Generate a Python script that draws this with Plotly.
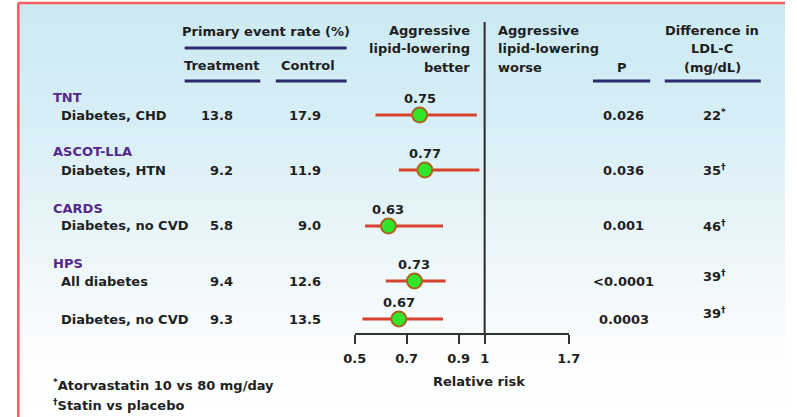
import plotly.graph_objects as go

# ---------------- data ----------------
studies = ["TNT", "ASCOT-LLA", "CARDS", "HPS"]
study_first_row = [0, 1, 2, 3]
subgroups = ["Diabetes, CHD", "Diabetes, HTN", "Diabetes, no CVD",
             "All diabetes", "Diabetes, no CVD"]
treatment_rate = ["13.8", "9.2", "5.8", "9.4", "9.3"]
control_rate = ["17.9", "11.9", "9.0", "12.6", "13.5"]
relative_risk = [0.75, 0.77, 0.63, 0.73, 0.67]
ci_low = [0.58, 0.67, 0.54, 0.62, 0.53]
ci_high = [0.97, 0.98, 0.84, 0.85, 0.84]
p_values = ["0.026", "0.036", "0.001", "<0.0001", "0.0003"]
ldl_diff = ["22", "35", "46", "39", "39"]
ldl_mark = ["*", "\u2020", "\u2020", "\u2020", "\u2020"]
tick_values = [0.5, 0.7, 0.9, 1.0, 1.7]
tick_labels = ["0.5", "0.7", "0.9", "1", "1.7"]
footnotes = ["<sup>*</sup>Atorvastatin 10 vs 80 mg/day",
             "<sup>\u2020</sup>Statin vs placebo"]

# ---------------- layout constants ----------------
W, H = 797, 417
ROW_Y = [115, 170, 226, 281, 319]          # row centres, px from top
LDL_DY = [0, 0, 0, -5, -6]
AXIS_Y = 333
X_LEFT, X_RIGHT = 353.3, 574.0              # pixel ends of the RR axis
BREAK_SCALE = 0.462                         # compression of the axis beyond RR = 1

FONT = "DejaVu Sans"
TXT = "#1f1f1f"
PURPLE = "#55288a"
NAVY = "#2d2a6c"


def axis_pos(v):
    """Position on the broken relative-risk axis (compressed above 1)."""
    return v if v <= 1 else 1 + (v - 1) * BREAK_SCALE


def px(x):
    return x / W


def py(y):
    return 1 - y / H


fig = go.Figure()

annotations = []


def label(text, x, y, size=13, color=TXT, xanchor="center", ref="paper"):
    if ref == "paper":
        xx, yy, xr, yr = px(x), py(y), "paper", "paper"
    else:
        xx, yy, xr, yr = x, y, "x", "y"
    annotations.append(dict(
        text=f"<b>{text}</b>", x=xx, y=yy, xref=xr, yref=yr,
        xanchor=xanchor, yanchor="middle", showarrow=False,
        font=dict(family=FONT, size=size, color=color)))


shapes = []

# background gradient: light blue at the top fading to white
stops = [(0, (203, 233, 242)), (120, (215, 238, 246)),
         (230, (232, 245, 249)), (340, (250, 252, 253)), (H, (255, 255, 255))]


def grad(y):
    for (y0, c0), (y1, c1) in zip(stops[:-1], stops[1:]):
        if y0 <= y <= y1:
            t = (y - y0) / (y1 - y0)
            return tuple(round(a + (b - a) * t) for a, b in zip(c0, c1))
    return stops[-1][1]


step = 3
for y in range(0, H, step):
    r, g, b = grad(y + step / 2)
    shapes.append(dict(type="rect", xref="paper", yref="paper",
                       x0=0, x1=1, y0=py(y + step), y1=py(y),
                       fillcolor=f"rgb({r},{g},{b})", line=dict(width=0),
                       layer="below"))
# white outer margin and red frame
shapes.append(dict(type="rect", xref="paper", yref="paper", x0=0, x1=px(5),
                   y0=0, y1=1, fillcolor="white", line=dict(width=0), layer="below"))
shapes.append(dict(type="rect", xref="paper", yref="paper", x0=0, x1=1,
                   y0=py(2), y1=1, fillcolor="white", line=dict(width=0), layer="below"))
shapes.append(dict(type="line", xref="paper", yref="paper", x0=px(6.5), x1=1,
                   y0=py(3), y1=py(3), line=dict(color="#f25c5c", width=2.5)))
shapes.append(dict(type="line", xref="paper", yref="paper", x0=px(6.5), x1=px(6.5),
                   y0=py(3), y1=0, line=dict(color="#f25c5c", width=2.5)))

# column headings and their underlines
label("Primary event rate (%)", 262, 32)
label("Treatment", 217, 65)
label("Control", 305, 65)
label("P", 629, 67)
for i, t in enumerate(["Aggressive", "lipid-lowering", "better"]):
    label(t, 474, 30 + i * 18.5, xanchor="right")
for i, t in enumerate(["Aggressive", "lipid-lowering", "worse"]):
    label(t, 499, 30 + i * 18.5, xanchor="left")
for i, t in enumerate(["Difference in", "LDL-C", "(mg/dL)"]):
    label(t, 722, 30 + i * 18.5)

for x0, x1, y in [(178, 345, 48), (178, 256, 81), (272, 345, 81),
                  (599, 658, 81), (673, 772, 81)]:
    shapes.append(dict(type="line", xref="paper", yref="paper",
                       x0=px(x0), x1=px(x1), y0=py(y), y1=py(y),
                       line=dict(color=NAVY, width=3)))

# study headings
for name, r in zip(studies, study_first_row):
    label(name, 40, ROW_Y[r] - 18, color=PURPLE, xanchor="left")

# table rows
for i in range(len(subgroups)):
    y = ROW_Y[i]
    label(subgroups[i], 48, y, xanchor="left")
    label(treatment_rate[i], 230, y, xanchor="right")
    label(control_rate[i], 321, y, xanchor="right")
    label(p_values[i], 631, y)
    label(f"{ldl_diff[i]}<sup>{ldl_mark[i]}</sup>", 724, y + LDL_DY[i])
    label(f"{relative_risk[i]:.2f}", relative_risk[i], y - 17, ref="data")

# confidence intervals and point estimates
for i in range(len(subgroups)):
    fig.add_trace(go.Scatter(
        x=[axis_pos(ci_low[i]), axis_pos(ci_high[i])], y=[ROW_Y[i], ROW_Y[i]],
        mode="lines", line=dict(color="#d9412c", width=3),
        hoverinfo="skip", showlegend=False, cliponaxis=False))
fig.add_trace(go.Scatter(
    x=[axis_pos(v) for v in relative_risk], y=ROW_Y, mode="markers",
    marker=dict(size=15, color="#2fe62a", line=dict(color="#a8661e", width=2)),
    showlegend=False, cliponaxis=False))

# line of no effect
shapes.append(dict(type="line", xref="x", yref="y", x0=1, x1=1, y0=22, y1=AXIS_Y,
                   line=dict(color="#2b2b2b", width=2)))

# axis title and footnotes
label("Relative risk", 481, 381)
label(footnotes[0], 40, 385, xanchor="left")
label(footnotes[1], 40, 405, xanchor="left")

fig.update_layout(
    width=W, height=H, margin=dict(l=0, r=0, t=0, b=0),
    paper_bgcolor="white", plot_bgcolor="rgba(0,0,0,0)",
    shapes=shapes, annotations=annotations, showlegend=False,
    xaxis=dict(domain=[px(X_LEFT), px(X_RIGHT)],
               range=[0.5, axis_pos(1.7)],
               tickvals=[axis_pos(v) for v in tick_values], ticktext=tick_labels,
               showline=True, linecolor="#333333", linewidth=2,
               ticks="outside", ticklen=9, tickwidth=2, tickcolor="#333333",
               showgrid=False, zeroline=False, fixedrange=True,
               ticklabelstandoff=3,
               tickfont=dict(family=FONT, size=13, color=TXT, weight="bold")),
    yaxis=dict(domain=[1 - AXIS_Y / H, 1], range=[AXIS_Y, 0],
               visible=False, fixedrange=True),
)

fig.write_html("out.html", config={"displayModeBar": False})
